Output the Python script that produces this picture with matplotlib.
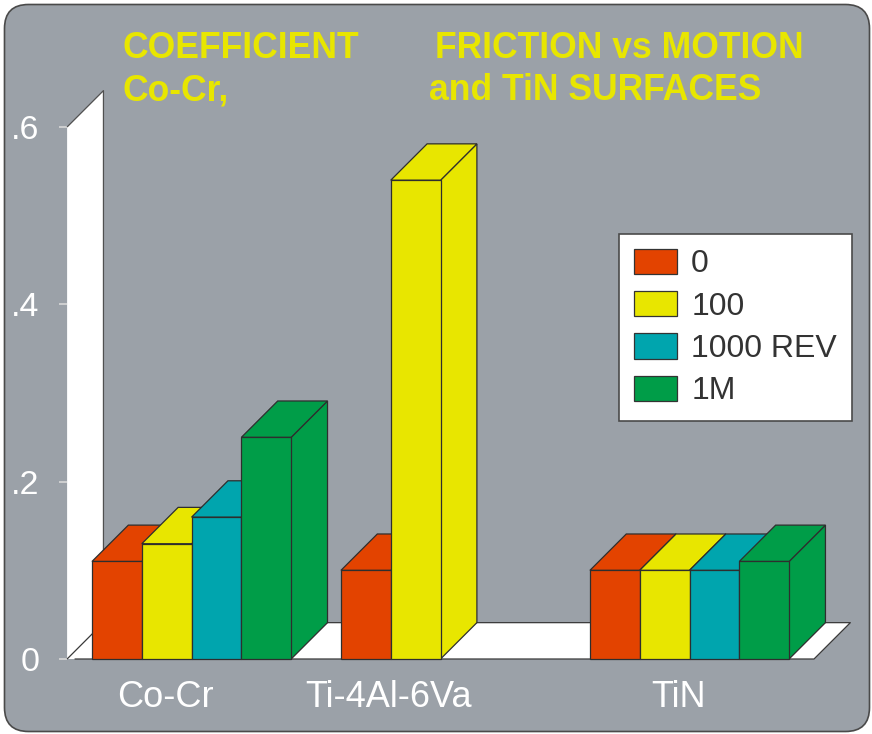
"""Coefficient of friction vs motion for Co-Cr, Ti-4Al-6Va and TiN surfaces,
drawn as an old-style 3D column chart on a grey slide panel."""

import matplotlib.pyplot as plt
from matplotlib.patches import FancyBboxPatch, Patch, Polygon, Rectangle

CATEGORIES = ["Co-Cr", "Ti-4Al-6Va", "TiN"]
SERIES = ["0", "100", "1000 REV", "1M"]
# friction coefficient per category for each number of revolutions (None = no bar)
COF_0 = [0.11, 0.10, 0.10]
COF_100 = [0.13, 0.54, 0.10]
COF_1000 = [0.16, None, 0.10]
COF_1M = [0.25, None, 0.11]
Y_TICKS = [0.0, 0.2, 0.4, 0.6]
Y_TICK_LABELS = ["0", ".2", ".4", ".6"]

COLORS = ["#E34300", "#E8E600", "#00A5AE", "#009D48"]
PANEL = "#9BA1A8"
EDGE = "#2E2E2E"
TITLE_YELLOW = "#E8E600"

GROUP_START = [0, 5, 10]
LABEL_POS = [1.47, 5.96, 11.79]
DEPTH_X = 0.73
DEPTH_Y = 0.041
X_MIN, X_MAX = -0.5, 14.5
Y_TOP = 0.6

W, H = 872, 734
plt.rcParams["font.family"] = ["Liberation Sans", "DejaVu Sans"]

fig = plt.figure(figsize=(W / 100, H / 100), dpi=100)
fig.patch.set_facecolor("white")

# rounded grey slide panel, in pixel units
bg = fig.add_axes([0, 0, 1, 1])
bg.set_xlim(0, W)
bg.set_ylim(H, 0)
bg.axis("off")
bg.add_patch(FancyBboxPatch((4.5, 4.5), W - 7, H - 7,
                            boxstyle="round,pad=0,rounding_size=24",
                            facecolor=PANEL, edgecolor="#4A4A4A", lw=1.2))

px0, px1 = 67.1, 814
py0, py1 = 659, 127
ax = fig.add_axes([px0 / W, (H - py0) / H, (px1 - px0) / W, (py0 - py1) / H])
ax.set_xlim(X_MIN, X_MAX)
ax.set_ylim(0, Y_TOP)
ax.patch.set_visible(False)
for s in ax.spines.values():
    s.set_visible(False)


def line(xs, ys, color="#505050"):
    ax.plot(xs, ys, color=color, lw=0.9, clip_on=False, zorder=2,
            solid_capstyle="butt")


# back wall and floor
wall = [(X_MIN, 0), (X_MIN, Y_TOP), (X_MIN + DEPTH_X, Y_TOP + DEPTH_Y),
        (X_MIN + DEPTH_X, DEPTH_Y)]
floor = [(X_MIN, 0), (X_MAX, 0), (X_MAX + DEPTH_X, DEPTH_Y),
         (X_MIN + DEPTH_X, DEPTH_Y)]
ax.add_patch(Polygon(wall, closed=True, facecolor="white", edgecolor="none",
                     clip_on=False, zorder=1))
ax.add_patch(Polygon(floor, closed=True, facecolor="white", edgecolor="none",
                     clip_on=False, zorder=1))
line([X_MIN, X_MIN + DEPTH_X, X_MIN + DEPTH_X],
     [Y_TOP, Y_TOP + DEPTH_Y, DEPTH_Y])
line([X_MIN + DEPTH_X, X_MAX + DEPTH_X, X_MAX, X_MIN + 0.15],
     [DEPTH_Y, DEPTH_Y, 0, 0], color="#3A3A3A")
line([X_MIN, X_MIN + DEPTH_X], [0, DEPTH_Y], color="#3A3A3A")


def bar3d(x, h, color, z):
    kw = dict(facecolor=color, edgecolor=EDGE, lw=0.9, clip_on=False,
              zorder=z, joinstyle="miter")
    side = [(x + 1, 0), (x + 1 + DEPTH_X, DEPTH_Y),
            (x + 1 + DEPTH_X, h + DEPTH_Y), (x + 1, h)]
    top = [(x, h), (x + DEPTH_X, h + DEPTH_Y),
           (x + 1 + DEPTH_X, h + DEPTH_Y), (x + 1, h)]
    ax.add_patch(Polygon(side, closed=True, **kw))
    ax.add_patch(Polygon(top, closed=True, **kw))
    ax.add_patch(Rectangle((x, 0), 1, h, **kw))


series_values = [COF_0, COF_100, COF_1000, COF_1M]
z = 3
for g, start in enumerate(GROUP_START):
    for s, vals in enumerate(series_values):
        if vals[g] is None:
            continue
        bar3d(start + s, vals[g], COLORS[s], z)
        z += 1

ax.set_yticks(Y_TICKS)
ax.set_yticklabels(Y_TICK_LABELS)
ax.tick_params(axis="y", length=6, width=1.2, color="#D8D8D8", pad=14,
               labelsize=24.5, labelcolor="white")
ax.set_xticks(LABEL_POS)
ax.set_xticklabels(CATEGORIES)
ax.tick_params(axis="x", length=0, pad=15, labelsize=26, labelcolor="white")

# title, two columns of bold yellow text
title_kw = dict(color=TITLE_YELLOW, fontsize=25.6, fontweight="bold",
                va="baseline", ha="left")
fig.text(122 / W, 1 - 58 / H, "COEFFICIENT", **title_kw)
fig.text(122 / W, 1 - 100 / H, "Co-Cr,", **title_kw)
fig.text(435 / W, 1 - 58 / H, "FRICTION vs MOTION", **title_kw)
fig.text(429 / W, 1 - 100 / H, "and TiN SURFACES", **title_kw)

handles = [Patch(facecolor=c, edgecolor="#333333", lw=0.9, label=s)
           for c, s in zip(COLORS, SERIES)]
leg = ax.legend(handles=handles, loc="upper left",
                bbox_to_anchor=(619 / W, 1 - 234 / H),
                bbox_transform=fig.transFigure, borderaxespad=0,
                fontsize=23, frameon=True, fancybox=False, framealpha=1,
                handlelength=1.35, handleheight=0.85, handletextpad=0.45,
                labelspacing=0.36, borderpad=0.46, labelcolor="#333333")
leg.get_frame().set_edgecolor("#4A4A4A")
leg.get_frame().set_linewidth(1.2)
leg.get_frame().set_facecolor("white")
leg.set_zorder(20)

fig.savefig("out.png", dpi=100)
